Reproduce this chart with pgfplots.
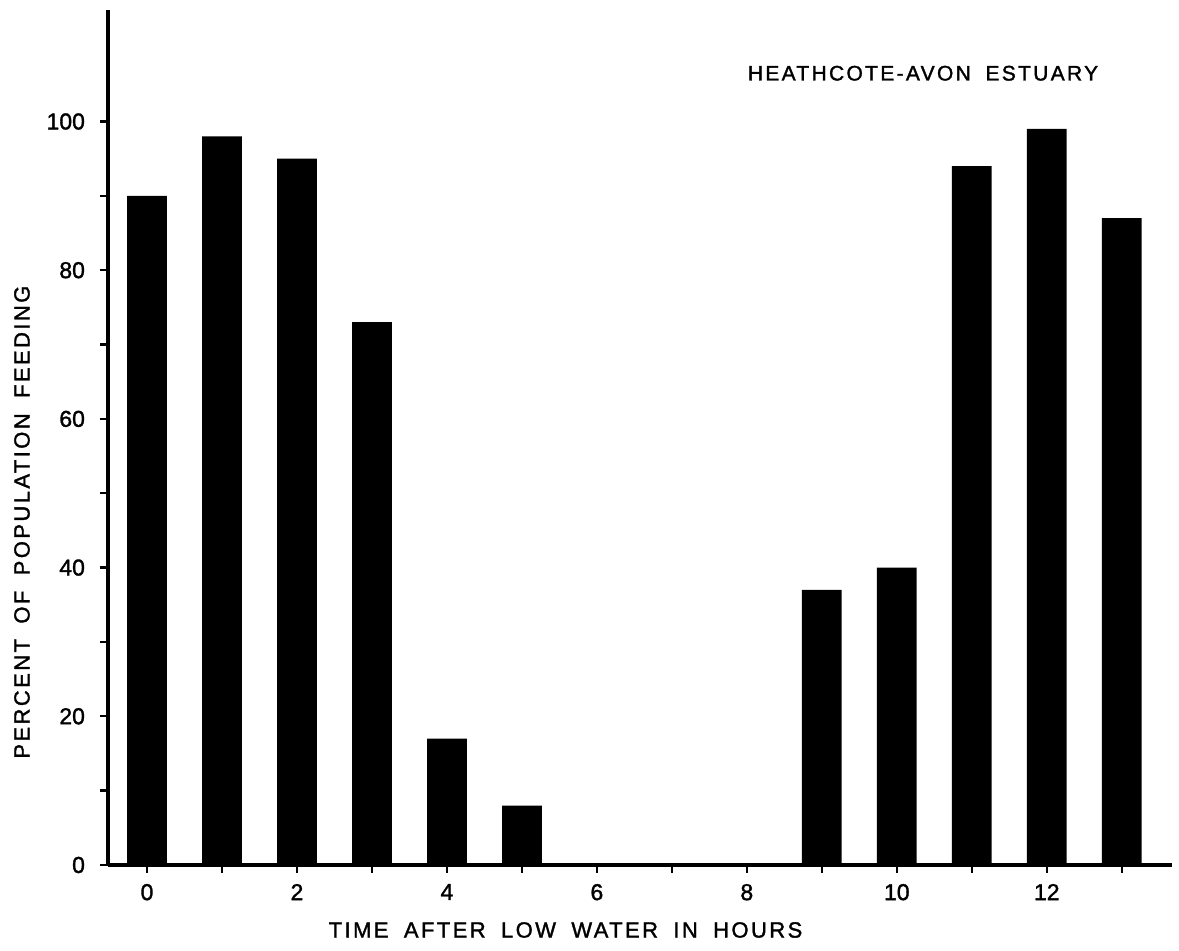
\documentclass[border=0pt]{standalone}
\usepackage{fontspec}
\setmainfont{Liberation Sans}[FakeBold=1.5]
\newfontfamily\lab{Liberation Sans}[LetterSpace=11, WordSpace=1.8, FakeBold=1.5]
\usepackage{pgfplots}
\pgfplotsset{compat=1.18}

\begin{document}
\begin{tikzpicture}
% page frame around the axis box
\useasboundingbox (-54pt,-43pt) rectangle (535.5pt,432.5pt);
\begin{axis}[
  at={(0,0)}, anchor=south west,
  scale only axis,
  width=532pt, height=427.5pt,
  xmin=-0.52, xmax=13.67,
  ymin=0, ymax=115,
  axis lines=left,
  axis line style={line width=1.6pt, -},
  every tick/.style={black, line width=1.2pt},
  tick align=outside,
  major tick length=4pt,
  minor tick length=4pt,
  xtick={0,2,...,12},
  minor xtick={1,3,...,13},
  ytick={0,20,...,100},
  minor ytick={10,30,...,90},
  /pgf/number format/assume math mode=true,
  tick label style={font=\fontsize{11.5}{13}\selectfont},
  xticklabel style={yshift=-2pt},
  yticklabel style={xshift=-4pt},
  label style={font=\lab\fontsize{11}{13}\selectfont},
  xlabel={TIME AFTER LOW WATER IN HOURS},
  xlabel style={at={(rel axis cs:0.43,0)}, anchor=center, yshift=-32.5pt},
  ylabel={PERCENT OF POPULATION FEEDING},
  ylabel style={at={(rel axis cs:0,0.401)}, anchor=center, yshift=43pt},
  clip=false,
]
\addplot[ybar, bar width=0.53, fill=black, draw=none] coordinates {
  (0,90) (1,98) (2,95) (3,73) (4,17) (5,8) (6,0) (7,0) (8,0)
  (9,37) (10,40) (11,94) (12,99) (13,87)
};
\node[font=\lab\fontsize{10.5}{13}\selectfont] at (rel axis cs:0.766,0.926) {HEATHCOTE-AVON ESTUARY};
\end{axis}
\end{tikzpicture}
\end{document}
